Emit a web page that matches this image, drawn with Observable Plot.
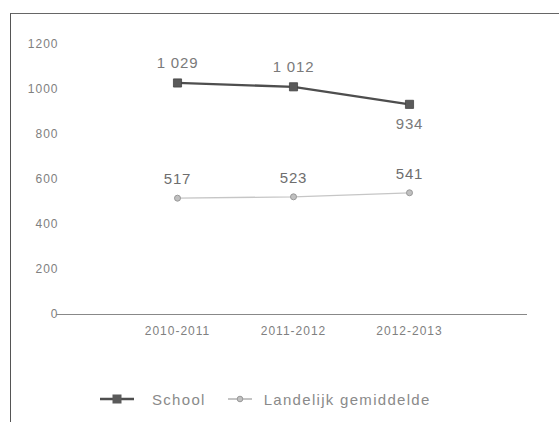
<!DOCTYPE html>
<html>
<head>
<meta charset="utf-8">
<script src="https://cdn.jsdelivr.net/npm/d3@7"></script>
<script src="https://cdn.jsdelivr.net/npm/@observablehq/plot@0.6"></script>
<style>
  html, body { margin: 0; padding: 0; background: #fff; width: 559px; height: 422px; overflow: hidden; }
  #wrap { position: relative; width: 559px; height: 422px; font-family: "Liberation Sans", Arial, sans-serif; }
  #frame { position: absolute; left: 10px; top: 13px; width: 560px; height: 420px;
           border-left: 1.5px solid #555; border-top: 1.5px solid #666; box-sizing: border-box; }
  #chart { position: absolute; left: 0; top: 0; }
  #chart svg text { letter-spacing: 1px; }
  #chart svg g.vlabel text { letter-spacing: 0.8px; }
  #legend { position: absolute; left: 100px; top: 390px; display: flex; align-items: center;
            font-size: 15px; letter-spacing: 1.3px; color: #8a8a8a; height: 18px; }
  #legend .item { display: flex; align-items: center; }
  #legend svg { display: block; }
</style>
</head>
<body>
<div id="wrap">
  <div id="frame"></div>
  <div id="chart"></div>
  <div id="legend"></div>
</div>
<script>
// ---- data ----
const years = ["2010-2011", "2011-2012", "2012-2013"];
const schoolValues = [1029, 1012, 934];
const landelijkValues = [517, 523, 541];
const seriesNames = ["School", "Landelijk gemiddelde"];
const yTicks = [0, 200, 400, 600, 800, 1000, 1200];

const nl = d3.formatLocale({decimal: ",", thousands: " ", grouping: [3], currency: ["€", ""]});
const fmt = nl.format(",d");

const school = years.map((y, i) => ({year: y, value: schoolValues[i], series: seriesNames[0], i}));
const landelijk = years.map((y, i) => ({year: y, value: landelijkValues[i], series: seriesNames[1], i}));

const chart = Plot.plot({
  width: 559,
  height: 345,
  marginLeft: 60,
  marginRight: 34,
  marginTop: 44,
  marginBottom: 31,
  style: {fontFamily: "Liberation Sans, Arial, sans-serif", background: "transparent"},
  x: {type: "point", domain: years, padding: 1, label: null},
  y: {domain: [0, 1200], label: null},
  marks: [
    Plot.axisY({ticks: yTicks, tickSize: 0, tickPadding: 2, tickFormat: d => String(d), fontSize: 12, fill: "#808080"}),
    Plot.axisX({tickSize: 0, tickPadding: 12, fontSize: 12, fill: "#808080"}),
    Plot.ruleY([0], {stroke: "#888", strokeWidth: 1.2, insetLeft: -4, insetRight: -2}),
    Plot.line(landelijk, {x: "year", y: "value", stroke: "#c6c6c6", strokeWidth: 1.3}),
    Plot.dot(landelijk, {x: "year", y: "value", r: 3, fill: "#c0c0c0", stroke: "#999", strokeWidth: 1}),
    Plot.line(school, {x: "year", y: "value", stroke: "#4e4e4e", strokeWidth: 2.3}),
    Plot.dot(school, {x: "year", y: "value", symbol: "square", r: 4.6, fill: "#5a5a5a", stroke: "#444", strokeWidth: 0.8}),
    Plot.text(school.filter(d => d.i < 2), {x: "year", y: "value", text: d => fmt(d.value), dy: -20, fontSize: 15, fill: "#7a7a7a", className: "vlabel"}),
    Plot.text(school.filter(d => d.i === 2), {x: "year", y: "value", text: d => fmt(d.value), dy: 20, fontSize: 15, fill: "#7a7a7a", className: "vlabel"}),
    Plot.text(landelijk, {x: "year", y: "value", text: d => fmt(d.value), dy: -19, fontSize: 15, fill: "#6e6e6e", className: "vlabel"})
  ]
});
document.getElementById("chart").appendChild(chart);

// ---- legend ----
const legend = document.getElementById("legend");
legend.innerHTML = `
  <div class="item">
    <svg width="34" height="14"><line x1="0" y1="7" x2="34" y2="7" stroke="#4e4e4e" stroke-width="2.5"/><rect x="12.5" y="2.5" width="9" height="9" fill="#5a5a5a"/></svg>
    <span style="margin-left:18px">${seriesNames[0]}</span>
  </div>
  <div class="item" style="margin-left:22px">
    <svg width="24" height="14"><line x1="0" y1="7" x2="24" y2="7" stroke="#b0b0b0" stroke-width="1.5"/><circle cx="12" cy="7" r="2.8" fill="#c0c0c0" stroke="#999"/></svg>
    <span style="margin-left:12px">${seriesNames[1]}</span>
  </div>`;
</script>
</body>
</html>
